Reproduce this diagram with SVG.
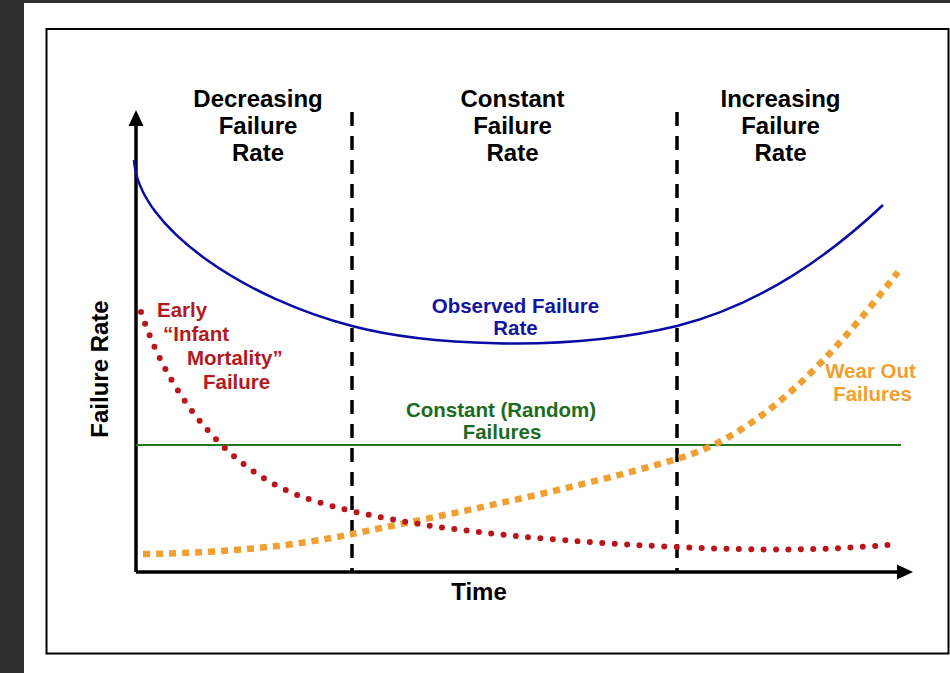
<svg xmlns="http://www.w3.org/2000/svg" width="950" height="673" viewBox="0 0 950 673">
<style>
text{font-family:"Liberation Sans",Arial,sans-serif;font-weight:bold}
.hd{font-size:24px;fill:#000;text-anchor:middle}
.lb{font-size:20.5px}
.ax{stroke:#000;stroke-width:3.5;fill:none}
.dash{stroke:#000;stroke-width:3.5;stroke-dasharray:14 10;fill:none}
</style>
<rect x="0" y="0" width="950" height="673" fill="#2f2f2d"/>
<rect x="24" y="3" width="926" height="670" fill="#fff"/>
<rect x="46.5" y="29" width="902" height="624.5" fill="none" stroke="#000" stroke-width="2"/>

<g id="regions">
<text class="hd" x="258" y="107">Decreasing</text>
<text class="hd" x="258" y="134">Failure</text>
<text class="hd" x="258" y="161">Rate</text>
<text class="hd" x="512.5" y="107">Constant</text>
<text class="hd" x="512.5" y="134">Failure</text>
<text class="hd" x="512.5" y="161">Rate</text>
<text class="hd" x="780.5" y="107">Increasing</text>
<text class="hd" x="780.5" y="134">Failure</text>
<text class="hd" x="780.5" y="161">Rate</text>
</g>

<g id="axes">
<path class="ax" d="M136,572 V122 M136,572 H900"/>
<polygon points="136,110 128.5,126 143.5,126" fill="#000"/>
<polygon points="913,572 897,564.5 897,579.5" fill="#000"/>
<text class="hd" x="479" y="600">Time</text>
<text class="hd" transform="translate(108,369) rotate(-90)" x="0" y="0">Failure Rate</text>
</g>

<g id="connectors">
<path class="dash" d="M352,112 V572"/>
<path class="dash" d="M677,112 V572"/>
<path id="green" d="M136,445 H901" stroke="#1f7a1f" stroke-width="2" fill="none"/>
<path id="orange" d="M143,554 C230,553 300,545 352,534 C420,520 560,493 677,459 C760,435 830,360 898,272" fill="none" stroke="#f0a030" stroke-width="6.5" stroke-dasharray="7 6"/>
<path id="red" d="M141,312 C170,400 230,470 300,496 C380,525 520,540 677,547 C760,551 830,550 888,545" fill="none" stroke="#bb151c" stroke-width="6" stroke-linecap="round" stroke-dasharray="0 12.4"/>
<path id="blue" d="M134,160 C138,230 250,300 352,326 C420,344 560,354 677,326 C760,305 830,255 883,205" fill="none" stroke="#0a0aa5" stroke-width="2.5"/>
</g>

<g id="observed">
<text class="lb" fill="#1414a0" text-anchor="middle" x="515.5" y="313">Observed Failure</text>
<text class="lb" fill="#1414a0" text-anchor="middle" x="515.5" y="335">Rate</text>
</g>
<g id="constant">
<text class="lb" fill="#1d6b1d" text-anchor="middle" x="501" y="417">Constant (Random)</text>
<text class="lb" fill="#1d6b1d" text-anchor="middle" x="502" y="439">Failures</text>
</g>
<g id="early">
<text class="lb" fill="#b3191e" x="157" y="317">Early</text>
<text class="lb" fill="#b3191e" x="163" y="341">“Infant</text>
<text class="lb" fill="#b3191e" x="187" y="365">Mortality”</text>
<text class="lb" fill="#b3191e" x="203" y="389">Failure</text>
</g>
<g id="wearout">
<text class="lb" fill="#f0a030" text-anchor="middle" x="870.5" y="378">Wear Out</text>
<text class="lb" fill="#f0a030" text-anchor="middle" x="872.5" y="401">Failures</text>
</g>
</svg>
